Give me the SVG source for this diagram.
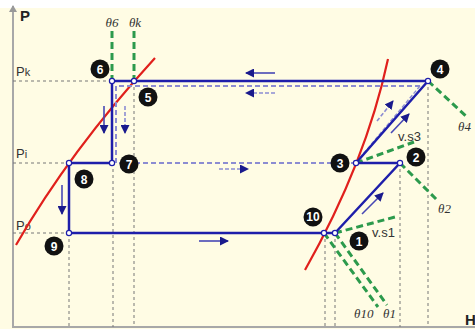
<svg xmlns="http://www.w3.org/2000/svg" width="475" height="329" viewBox="0 0 475 329">
<style>
.guide{stroke:#777;stroke-width:1;stroke-dasharray:3 3;fill:none}
.cycle{stroke:#1e1eaa;stroke-width:2.5;fill:none;stroke-linejoin:round}
.alt{stroke:#8c8cd2;stroke-width:2;stroke-dasharray:5 3;fill:none}
.iso{stroke:#2c9a4c;stroke-width:3;stroke-dasharray:7 4;fill:none}
.sat{stroke:#e0201c;stroke-width:2.2;fill:none}
.arr{stroke:#4848b4;stroke-width:1.6;fill:none;marker-end:url(#ah)}
.arrd{stroke:#8c8cd2;stroke-width:1.6;stroke-dasharray:4 2;fill:none;marker-end:url(#ah)}
.pt{fill:#fff;stroke:#1e1eaa;stroke-width:1.2}
.badge{fill:#111}
.num{fill:#fff;font-family:"Liberation Sans",Arial,sans-serif;font-weight:bold;font-size:12px;text-anchor:middle}
.lbl{fill:#333;font-family:"Liberation Sans",Arial,sans-serif;font-size:13px}
.th{fill:#333;font-family:"Liberation Serif","Times New Roman",serif;font-style:italic;font-size:13px}
.ax{fill:#222;font-family:"Liberation Sans",Arial,sans-serif;font-weight:bold;font-size:15px}
</style>
<defs>
<marker id="ah" markerUnits="userSpaceOnUse" markerWidth="10" markerHeight="9" refX="8" refY="4.5" orient="auto">
<path d="M0,0 L9,4.5 L0,9 Z" fill="#1a1a8c"/>
</marker>
<marker id="axh" markerUnits="userSpaceOnUse" markerWidth="8" markerHeight="8" refX="6" refY="4" orient="auto">
<path d="M0,0 L7,4 L0,8 Z" fill="#999"/>
</marker>
</defs>
<rect x="0" y="0" width="475" height="329" fill="#ffffff"/>
<rect x="0" y="8" width="475" height="321" fill="#fffce4"/>
<g id="axes">
<line x1="13" y1="327" x2="13" y2="6" stroke="#a8a8a8" stroke-width="2" marker-end="url(#axh)"/>
<line x1="12" y1="327" x2="475" y2="327" stroke="#a8a8a8" stroke-width="2"/>
<text class="ax" x="20" y="21">P</text>
<text class="ax" x="465" y="325">H</text>
<text class="lbl" x="16" y="76">P<tspan font-size="11">k</tspan></text>
<text class="lbl" x="16" y="158">P<tspan font-size="11">i</tspan></text>
<text class="lbl" x="16" y="230">P<tspan font-size="11">o</tspan></text>
</g>
<g id="guides">
<line class="guide" x1="13" y1="81" x2="112" y2="81"/>
<line class="guide" x1="13" y1="163" x2="69" y2="163"/>
<line class="guide" x1="13" y1="233" x2="69" y2="233"/>
<line class="guide" x1="69" y1="233" x2="69" y2="327"/>
<line class="guide" x1="113" y1="163" x2="113" y2="327"/>
<line class="guide" x1="134" y1="81" x2="134" y2="327"/>
<line class="guide" x1="325" y1="233" x2="325" y2="327"/>
<line class="guide" x1="335" y1="233" x2="335" y2="327"/>
<line class="guide" x1="400" y1="163" x2="400" y2="327"/>
<line class="guide" x1="428" y1="81" x2="428" y2="327"/>
</g>
<g id="saturation">
<path class="sat" d="M16,245 Q70,151 155,58"/>
<path class="sat" d="M305,270 Q366,162 388,59"/>
</g>
<g id="isotherms">
<line class="iso" x1="112" y1="31" x2="112" y2="81"/>
<line class="iso" x1="134" y1="31" x2="134" y2="81"/>
<line class="iso" x1="428" y1="81" x2="467" y2="117"/>
<line class="iso" x1="400" y1="163" x2="437" y2="200"/>
<line class="iso" x1="356" y1="163" x2="414" y2="142"/>
<line class="iso" x1="335" y1="233" x2="395" y2="217"/>
<line class="iso" x1="324" y1="233" x2="378" y2="307"/>
<line class="iso" x1="335" y1="233" x2="387" y2="305"/>
<text class="th" x="112" y="27" text-anchor="middle">θ6</text>
<text class="th" x="135" y="27" text-anchor="middle">θk</text>
<text class="th" x="458" y="131">θ4</text>
<text class="th" x="438" y="213">θ2</text>
<text class="th" x="354" y="318">θ10</text>
<text class="th" x="383" y="318">θ1</text>
<text class="lbl" x="398" y="141">v.s3</text>
<text class="lbl" x="372" y="237">v.s1</text>
</g>
<g id="connectors">
<path class="alt" d="M356,163 L116,163 L116,86 L420,86"/>
<path d="M420,86 L359,159" stroke="#8c8cd2" stroke-width="1.4" stroke-dasharray="4 2" fill="none"/>
<path class="cycle" d="M69,233 L324,233 L335,233 L400,163 L356,163 L428,81 L112,81 L112,163 L69,163 Z"/>
<line class="arr" x1="275" y1="73" x2="246" y2="73"/>
<line class="arrd" x1="275" y1="93" x2="246" y2="93"/>
<line class="arrd" x1="219" y1="169" x2="248" y2="169"/>
<line class="arr" x1="199" y1="241" x2="228" y2="241"/>
<line class="arr" x1="104" y1="106" x2="104" y2="133"/>
<line class="arrd" x1="125" y1="106" x2="125" y2="133"/>
<line class="arr" x1="62" y1="185" x2="62" y2="214"/>
<line class="arr" x1="362" y1="214" x2="383" y2="193"/>
<line class="arrd" x1="377" y1="121" x2="393" y2="101"/>
<line class="arr" x1="391" y1="133" x2="409" y2="114"/>
</g>
<g id="n1"><circle class="pt" cx="335" cy="233" r="2.6"/><circle class="badge" cx="359" cy="241" r="9.5"/><text class="num" x="359" y="245.5">1</text></g>
<g id="n2"><circle class="pt" cx="400" cy="163" r="2.6"/><circle class="badge" cx="416" cy="157" r="9.5"/><text class="num" x="416" y="161.5">2</text></g>
<g id="n3"><circle class="pt" cx="356" cy="163" r="2.6"/><circle class="badge" cx="340" cy="163" r="9.5"/><text class="num" x="340" y="167.5">3</text></g>
<g id="n4"><circle class="pt" cx="428" cy="81" r="2.6"/><circle class="badge" cx="440" cy="69" r="9.5"/><text class="num" x="440" y="73.5">4</text></g>
<g id="n5"><circle class="pt" cx="134" cy="81" r="2.6"/><circle class="badge" cx="148" cy="97" r="9.5"/><text class="num" x="148" y="101.5">5</text></g>
<g id="n6"><circle class="pt" cx="112" cy="81" r="2.6"/><circle class="badge" cx="100" cy="69" r="9.5"/><text class="num" x="100" y="73.5">6</text></g>
<g id="n7"><circle class="pt" cx="112" cy="163" r="2.6"/><circle class="badge" cx="129" cy="164" r="9.5"/><text class="num" x="129" y="168.5">7</text></g>
<g id="n8"><circle class="pt" cx="69" cy="163" r="2.6"/><circle class="badge" cx="84" cy="179" r="9.5"/><text class="num" x="84" y="183.5">8</text></g>
<g id="n9"><circle class="pt" cx="69" cy="233" r="2.6"/><circle class="badge" cx="54" cy="246" r="9.5"/><text class="num" x="54" y="250.5">9</text></g>
<g id="n10"><circle class="pt" cx="324" cy="233" r="2.6"/><circle class="badge" cx="313" cy="217" r="9.5"/><text class="num" x="313" y="221" font-size="11">10</text></g>
</svg>
